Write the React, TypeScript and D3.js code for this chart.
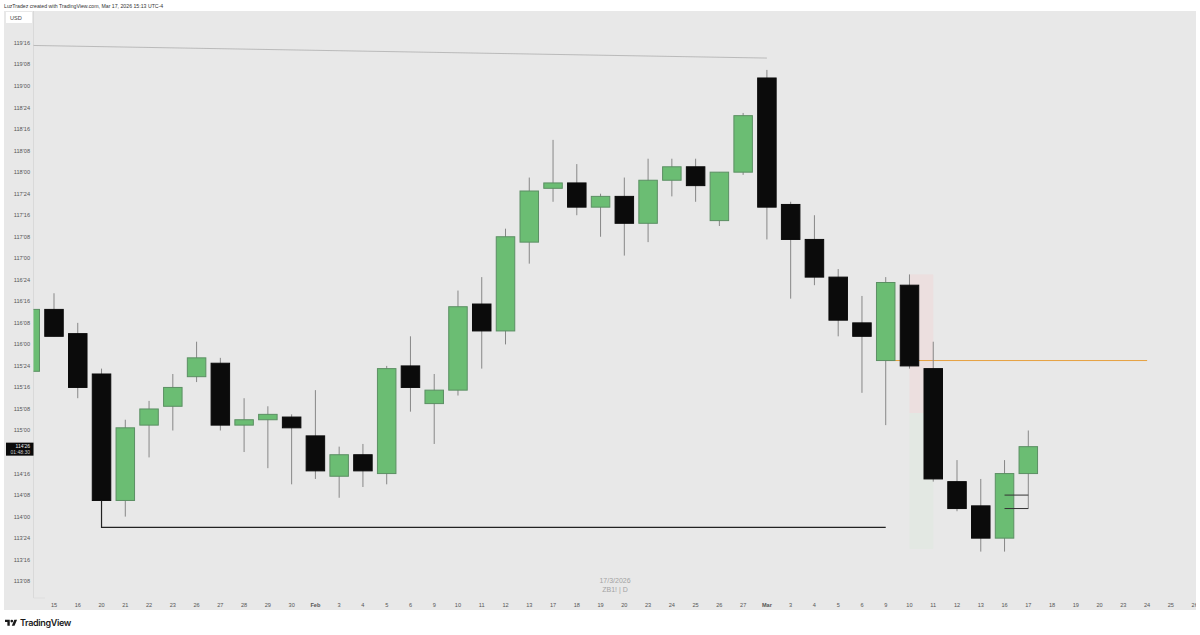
import React from "react";
import * as d3 from "d3";

// Prices are stored in 32nds above 100 (e.g. 114'26 = 14*32+26 = 474)
const slotLabels = ["15","16","20","21","22","23","26","27","28","29","30","Feb","3","4","5","6","9","10","11","12","13","17","18","19","20","23","24","25","26","27","Mar","3","4","5","6","9","10","11","12","13","16","17","18","19","20","23","24","25","26"];
const candleSlots = [-1,0,1,2,3,4,5,6,7,8,9,10,11,12,13,14,15,16,17,18,19,20,21,22,23,24,25,26,27,28,29,30,31,32,33,34,35,36,37,38,39,40,41];
const opens  = [502,525,516,501,454,482,489,500,505,482,484,485,478,463,471,464,504,490,495,527,517,550,570,572,563,567,557,573,578,558,576,611,564,551,537,520,506,534,503,461,452,440,464];
const closes = [525,515,496,454,481,488,496,507,482,484,486,481,465,471,465,503,496,495,526,517,552,569,572,563,567,557,573,578,571,576,597,563,551,537,521,515,535,504,462,451,440,464,474];
const highs  = [525,531,520,503,484,491,501,513,507,492,489,486,495,474,475,504,515,501,532,537,555,574,588,579,568,574,581,581,581,576,598,614,565,560,540,530,537,538,513,469,462,469,480];
const lows   = [502,515,492,454,448,470,480,498,480,472,466,460,462,455,459,460,487,475,493,503,512,542,565,560,552,545,550,567,565,556,575,551,529,534,515,494,482,503,461,450,435,435,451];

const priceTicks = [624,616,608,600,592,584,576,568,560,552,544,536,528,520,512,504,496,488,480,464,456,448,440,432,424];
const lastPrice = 474;
const countdown = "01:48:30";
const headerText = "LuzTradez created with TradingView.com, Mar 17, 2026 15:13 UTC-4";
const watermark = ["17/3/2026", "ZB1! | D"];
const topLine = [{ slot: -1, v: 623.1 }, { slot: 30, v: 618.4 }];
const supportLine = [{ slot: 2, v: 454 }, { slot: 2, v: 444 }, { slot: 35, v: 444 }];
const orangeLine = [{ slot: 35, v: 506 }, { slot: 46, v: 506 }];
const shortLines = [{ from: 40, to: 41, v: 456 }, { from: 40, to: 41, v: 451 }];
const zoneSlots = [36, 37];
const zoneLevels = [538, 486.5, 436];

const W = 1200, H = 635;
const panel = { left: 4, right: 1196, top: 11, bottom: 610 };
const axisX = 33.5;
const axisY = 598;

const x = d3.scaleLinear().domain([0, 41]).range([54, 1028.3]);
const y = d3.scaleLinear().domain([624, 424]).range([43, 581.2]);
const fmt = (v: number) => `${100 + Math.floor(v / 32)}'${String(v % 32).padStart(2, "0")}`;
const line2 = d3.line<{ slot: number; v: number }>().x(d => x(d.slot)).y(d => y(d.v));

const FONT = "'Liberation Sans', Arial, sans-serif";
const GREEN = "#6bbd73", GREEN_EDGE = "#5b8f63", BLACK = "#0b0b0b", WICK = "#878787";
const BODY_W = 18.5;

export default function App() {
  return (
    <svg width={W} height={H} viewBox={`0 0 ${W} ${H}`} style={{ position: "fixed", left: 0, top: 0, display: "block", background: "#fff" }} fontFamily={FONT}>
      <defs>
        <clipPath id="plot"><rect x={axisX} y={panel.top} width={panel.right - axisX} height={axisY - panel.top} /></clipPath>
        <clipPath id="panelClip"><rect x={panel.left} y={panel.top} width={panel.right - panel.left} height={panel.bottom - panel.top} /></clipPath>
      </defs>
      <text x={4} y={7.5} fontSize={5.2} fill="#333">{headerText}</text>
      <rect x={panel.left} y={panel.top} width={panel.right - panel.left} height={panel.bottom - panel.top} fill="#e8e8e8" />
      <line x1={axisX} x2={axisX} y1={panel.top} y2={axisY} stroke="#d9d9d9" />
      <line x1={axisX} x2={45} y1={axisY} y2={axisY} stroke="#dedede" />

      {priceTicks.map(v => (
        <text key={v} x={30} y={y(v)} dy="0.35em" textAnchor="end" fontSize={5.6} fill="#555">{fmt(v)}</text>
      ))}
      <rect x={6} y={12} width={26} height={11} fill="#fff" />
      <text x={10} y={18} dy="0.35em" fontSize={5.6} fill="#444">USD</text>

      <g clipPath="url(#panelClip)">
        {slotLabels.map((l, i) => (
          <text key={i} x={x(i)} y={605} dy="0.35em" textAnchor="middle" fontSize={5.6} fill="#555" fontWeight={l === "Feb" || l === "Mar" ? 700 : 400}>{l}</text>
        ))}
      </g>

      <g clipPath="url(#plot)">
        <rect x={x(zoneSlots[0])} width={x(zoneSlots[1]) - x(zoneSlots[0])} y={y(zoneLevels[0])} height={y(zoneLevels[1]) - y(zoneLevels[0])} fill="#ecdfdf" />
        <rect x={x(zoneSlots[0])} width={x(zoneSlots[1]) - x(zoneSlots[0])} y={y(zoneLevels[1])} height={y(zoneLevels[2]) - y(zoneLevels[1])} fill="#e3e8e3" />
        <path d={line2(topLine)!} fill="none" stroke="#b4b4b4" strokeWidth={0.9} />
        <path d={line2(orangeLine)!} fill="none" stroke="#e6a13f" strokeWidth={1} />

        {candleSlots.map((s, i) => {
          const up = closes[i] >= opens[i];
          const top = y(Math.max(opens[i], closes[i]));
          const bottom = y(Math.min(opens[i], closes[i]));
          return (
            <g key={i}>
              <line x1={x(s)} x2={x(s)} y1={y(highs[i])} y2={y(lows[i])} stroke={WICK} strokeWidth={1} />
              <rect x={x(s) - BODY_W / 2} y={top} width={BODY_W} height={Math.max(1, bottom - top)}
                fill={up ? GREEN : BLACK} stroke={up ? GREEN_EDGE : BLACK} strokeWidth={1} />
            </g>
          );
        })}

        <path d={line2(supportLine)!} fill="none" stroke="#222" strokeWidth={1.2} />
        {shortLines.map((l, i) => (
          <line key={i} x1={x(l.from)} x2={x(l.to)} y1={y(l.v)} y2={y(l.v)} stroke="#333" strokeWidth={1} />
        ))}
      </g>

      <rect x={6} y={y(lastPrice) - 4} width={27.5} height={13} fill="#0a0a0a" />
      <text x={30} y={y(lastPrice) - 0.6} dy="0.35em" textAnchor="end" fontSize={5} fill="#eee">{fmt(lastPrice)}</text>
      <text x={30} y={y(lastPrice) + 5.6} dy="0.35em" textAnchor="end" fontSize={5} fill="#ccc">{countdown}</text>

      <text x={615} y={580.5} dy="0.35em" textAnchor="middle" fontSize={7} fill="#a3a3a3">{watermark[0]}</text>
      <text x={615} y={590} dy="0.35em" textAnchor="middle" fontSize={7} fill="#a3a3a3">{watermark[1]}</text>

      <g transform="translate(5,619) scale(0.34)" fill="#1a1a1a">
        <path d="M14 20H7V9H0V2h14v18zM28 20h-8l7.5-18h8L28 20z" />
        <circle cx={20} cy={6} r={4} />
      </g>
      <text x={20} y={622.5} dy="0.35em" fontSize={9} letterSpacing={-0.35} fontWeight={600} fill="#1a1a1a" fontFamily="Inter, sans-serif">TradingView</text>
    </svg>
  );
}
